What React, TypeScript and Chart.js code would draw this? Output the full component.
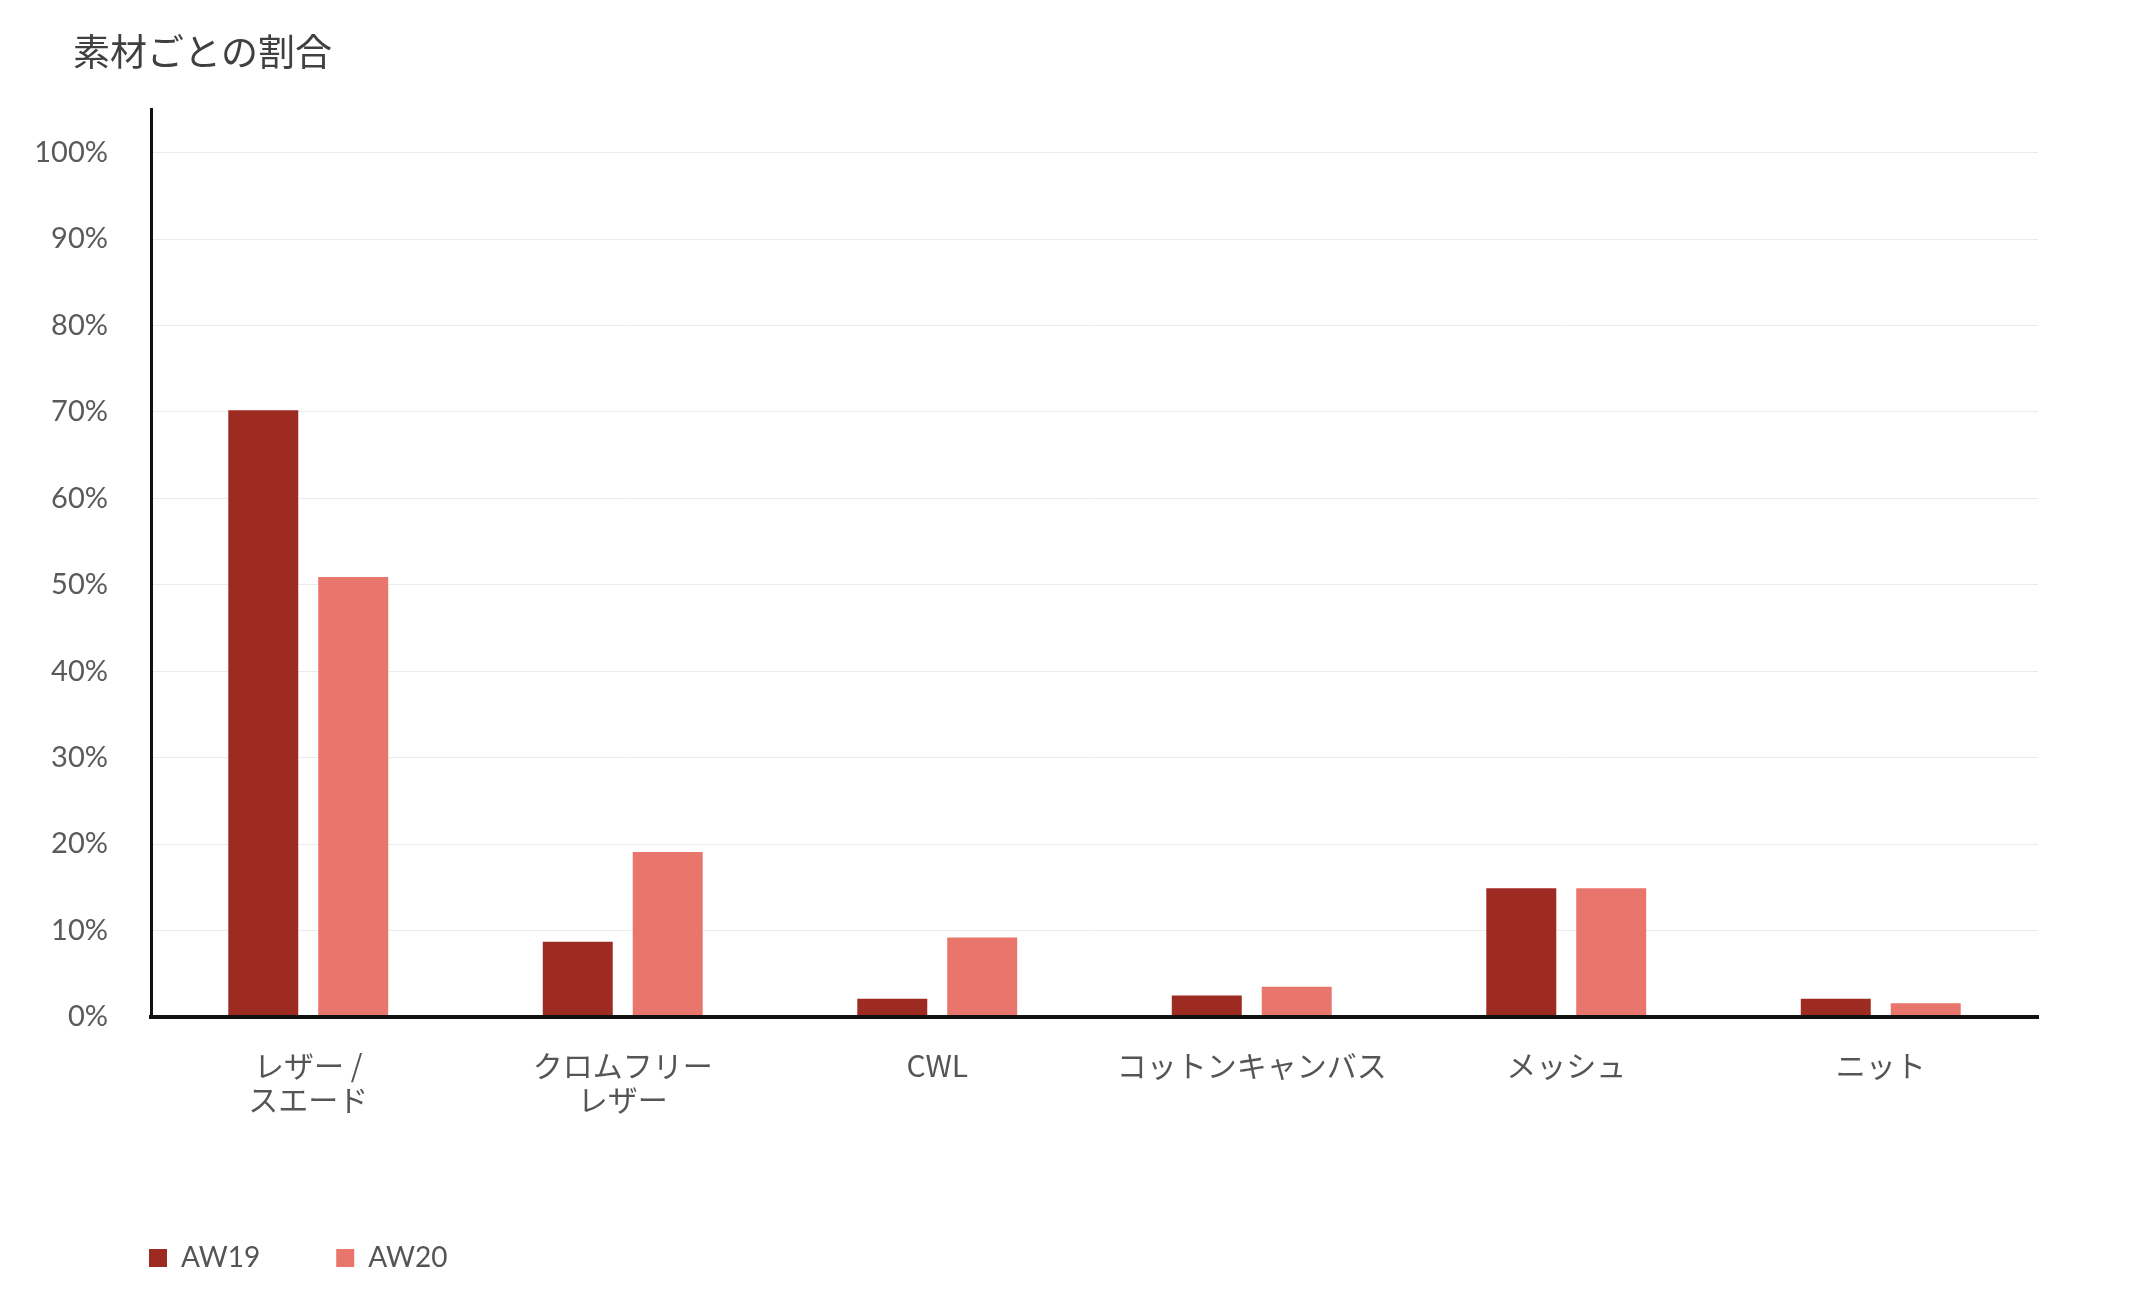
import React, { useEffect, useRef } from 'react';
import { Chart, LinearScale, registerables } from 'chart.js';

const TITLE = '素材ごとの割合';
const categories: (string | string[])[] = [
  ['レザー /', 'スエード'],
  ['クロムフリー', 'レザー'],
  'CWL',
  'コットンキャンバス',
  'メッシュ',
  'ニット',
];
const seriesNames = ['AW19', 'AW20'];
const aw19 = [70.2, 8.7, 2.1, 2.5, 14.9, 2.1];
const aw20 = [50.9, 19.1, 9.2, 3.5, 14.9, 1.6];
const yTickMax = 100;
const yTickStep = 10;
const yTickSuffix = '%';

const COLORS = ['#9d2b21', '#e9766d'];
const JP_FONT = "'Noto Sans CJK JP', 'Noto Sans', sans-serif";
const LATIN_FONT = "Lato, 'Noto Sans', sans-serif";

// Linear scale whose tick labels may extend past the scale's own box
class UnclippedLinearScale extends LinearScale {
  static id = 'unclippedLinear';
  static defaults = LinearScale.defaults;
  _computeLabelArea(): any {
    return undefined;
  }
}

Chart.register(...registerables, UnclippedLinearScale);

export default function App() {
  const ref = useRef<HTMLCanvasElement | null>(null);

  useEffect(() => {
    if (!ref.current) return;
    const chart = new Chart(ref.current, {
      type: 'bar',
      data: {
        labels: categories as any,
        datasets: [
          {
            label: seriesNames[0],
            data: aw19,
            backgroundColor: COLORS[0],
            borderWidth: 0,
            categoryPercentage: 0.572,
            barPercentage: 0.778,
          },
          {
            label: seriesNames[1],
            data: aw20,
            backgroundColor: COLORS[1],
            borderWidth: 0,
            categoryPercentage: 0.572,
            barPercentage: 0.778,
          },
        ],
      },
      options: {
        responsive: true,
        maintainAspectRatio: false,
        animation: false,
        events: [],
        layout: { padding: { left: 65, right: 102, top: 0, bottom: 26 } },
        plugins: {
          title: {
            display: true,
            text: TITLE,
            align: 'start',
            color: '#404040',
            font: { family: JP_FONT, size: 37, weight: 'normal', lineHeight: 1.2 },
            padding: { top: 22, bottom: 35 },
          },
          legend: {
            position: 'bottom',
            align: 'start',
            labels: {
              boxWidth: 18,
              boxHeight: 18,
              padding: 76,
              color: '#555555',
              font: { family: LATIN_FONT, size: 28 },
            },
          },
          tooltip: { enabled: false },
        },
        scales: {
          x: {
            type: 'category',
            offset: true,
            grid: { display: false, drawTicks: false, offset: true },
            border: { display: true, color: '#111111', width: 4, z: 1 },
            ticks: {
              color: '#555555',
              padding: 31,
              maxRotation: 0,
              minRotation: 0,
              autoSkip: false,
              font: { family: JP_FONT, size: 30, lineHeight: 1.15 },
            },
            afterFit: (s: any) => {
              s.height = 151;
            },
          },
          y: {
            type: 'unclippedLinear',
            min: 0,
            max: 105,
            grid: { color: '#ebebeb', lineWidth: 1, drawTicks: false },
            border: { display: true, color: '#111111', width: 3 },
            ticks: {
              stepSize: yTickStep,
              padding: 43,
              color: '#5a5a5a',
              font: { family: LATIN_FONT, size: 29 },
              callback: (v: any) => `${v}${yTickSuffix}`,
            },
            afterBuildTicks: (s: any) => {
              s.ticks = s.ticks.filter((t: any) => t.value <= yTickMax);
            },
            afterFit: (s: any) => {
              s.width = 78;
            },
          },
        } as any,
      },
    });
    return () => chart.destroy();
  }, []);

  return (
    <div style={{ position: 'relative', width: '2132px', height: '1300px' }}>
      <canvas ref={ref} />
    </div>
  );
}
